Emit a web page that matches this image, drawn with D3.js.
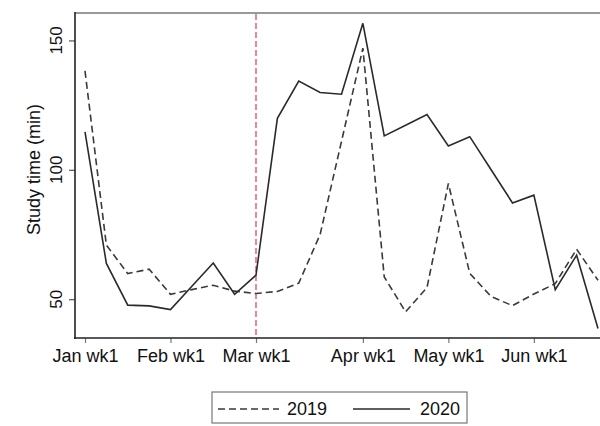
<!DOCTYPE html>
<html>
<head>
<meta charset="utf-8">
<script src="https://cdn.jsdelivr.net/npm/d3@7/dist/d3.min.js"></script>
<style>
  html, body { margin: 0; padding: 0; background: #fff; }
  svg { display: block; font-family: "Liberation Sans", Arial, Helvetica, sans-serif; }
</style>
</head>
<body>
<svg id="chart" width="600" height="426"></svg>
<script>
// Weekly study time, Jan–Jun
const weeks = [
  "Jan wk1", "Jan wk2", "Jan wk3", "Jan wk4",
  "Feb wk1", "Feb wk2", "Feb wk3", "Feb wk4",
  "Mar wk1", "Mar wk2", "Mar wk3", "Mar wk4", "Mar wk5",
  "Apr wk1", "Apr wk2", "Apr wk3", "Apr wk4",
  "May wk1", "May wk2", "May wk3", "May wk4",
  "Jun wk1", "Jun wk2", "Jun wk3", "Jun wk4"
];
const study2019 = [138.2, 70.9, 59.9, 61.6, 51.9, 53.7, 55.4, 53.1, 52.2, 53.0, 56.2, 75.0, 111.0,
  147.0, 58.6, 45.1, 54.5, 94.7, 60.0, 51.0, 47.5, 52.0, 56.0, 69.3, 57.3];
const study2020 = [114.7, 63.8, 47.7, 47.4, 46.0, 55.0, 64.0, 51.9, 59.3, 119.9, 134.3, 129.9, 129.2,
  156.6, 113.1, 117.2, 121.4, 109.2, 112.8, 100.0, 87.2, 90.2, 53.7, 67.0, 38.7];
const tickWeeks = ["Jan wk1", "Feb wk1", "Mar wk1", "Apr wk1", "May wk1", "Jun wk1"];
const yTicks = [50, 100, 150];
const markerWeek = "Mar wk1";
const seriesNames = ["2019", "2020"];

const svg = d3.select("#chart");
const plot = { left: 75, right: 600, top: 13, bottom: 338 };

const x = d3.scalePoint().domain(weeks).range([85, 598]);
const y = d3.scaleLinear().domain([35, 160.6]).range([plot.bottom, plot.top]);

svg.append("defs").append("clipPath").attr("id", "clip")
  .append("rect")
  .attr("x", plot.left).attr("y", plot.top)
  .attr("width", plot.right - plot.left).attr("height", plot.bottom - plot.top);

// top frame line
svg.append("line")
  .attr("x1", plot.left).attr("x2", plot.right)
  .attr("y1", plot.top).attr("y2", plot.top)
  .attr("stroke", "#9a9a9a").attr("stroke-width", 2);

// marker line at the start of March
svg.append("line")
  .attr("x1", x(markerWeek)).attr("x2", x(markerWeek))
  .attr("y1", plot.top + 1).attr("y2", plot.bottom)
  .attr("stroke", "#ec3f72").attr("stroke-width", 1.3)
  .attr("stroke-dasharray", "6,3");

// series lines
const line = d3.line()
  .x((d, i) => x(weeks[i]))
  .y(d => y(d));

const g = svg.append("g").attr("clip-path", "url(#clip)");
g.append("path").datum(study2019)
  .attr("d", line).attr("fill", "none")
  .attr("stroke", "#3a3a3a").attr("stroke-width", 1.6)
  .attr("stroke-dasharray", "7,4");
g.append("path").datum(study2020)
  .attr("d", line).attr("fill", "none")
  .attr("stroke", "#2a2a2a").attr("stroke-width", 1.6);

// y axis
const yAxis = svg.append("g").attr("transform", `translate(${plot.left},0)`)
  .call(d3.axisLeft(y).tickValues(yTicks).tickSize(6).tickFormat(d3.format("d")));
yAxis.select(".domain").remove();
yAxis.selectAll(".tick line").attr("stroke", "#555").attr("stroke-width", 1.2);
yAxis.selectAll(".tick text").remove();
svg.append("line")
  .attr("x1", plot.left).attr("x2", plot.left)
  .attr("y1", plot.top - 1).attr("y2", plot.bottom + 1)
  .attr("stroke", "#222").attr("stroke-width", 1.6);

svg.append("g").selectAll("text").data(yTicks).join("text")
  .attr("transform", d => `translate(62,${y(d)}) rotate(-90)`)
  .attr("text-anchor", "middle")
  .attr("font-size", 17).attr("fill", "#111")
  .text(d => d);

// x axis
const xAxis = svg.append("g").attr("transform", `translate(0,${plot.bottom})`)
  .call(d3.axisBottom(x).tickValues(tickWeeks).tickSize(5).tickPadding(6));
xAxis.select(".domain").remove();
xAxis.selectAll(".tick line").attr("stroke", "#777").attr("stroke-width", 1.2);
xAxis.selectAll(".tick text")
  .attr("font-size", 18).attr("fill", "#111")
  .attr("dy", null).attr("y", 24);
svg.append("line")
  .attr("x1", plot.left - 1).attr("x2", plot.right)
  .attr("y1", plot.bottom).attr("y2", plot.bottom)
  .attr("stroke", "#222").attr("stroke-width", 1.6);

// y axis title
svg.append("text")
  .attr("transform", `translate(40,${(plot.top + plot.bottom) / 2 - 6}) rotate(-90)`)
  .attr("text-anchor", "middle")
  .attr("font-size", 18).attr("fill", "#111")
  .text("Study time (min)");

// legend
const legend = svg.append("g");
legend.append("rect")
  .attr("x", 212).attr("y", 392).attr("width", 255).attr("height", 31)
  .attr("fill", "#fff").attr("stroke", "#777").attr("stroke-width", 1.2);
legend.append("line")
  .attr("x1", 218).attr("x2", 279).attr("y1", 409).attr("y2", 409)
  .attr("stroke", "#3a3a3a").attr("stroke-width", 1.4).attr("stroke-dasharray", "7,4");
legend.append("text")
  .attr("x", 287).attr("y", 415).attr("font-size", 18).attr("fill", "#111")
  .text(seriesNames[0]);
legend.append("line")
  .attr("x1", 353).attr("x2", 410).attr("y1", 409).attr("y2", 409)
  .attr("stroke", "#2a2a2a").attr("stroke-width", 1.4);
legend.append("text")
  .attr("x", 420).attr("y", 415).attr("font-size", 18).attr("fill", "#111")
  .text(seriesNames[1]);
</script>
</body>
</html>
